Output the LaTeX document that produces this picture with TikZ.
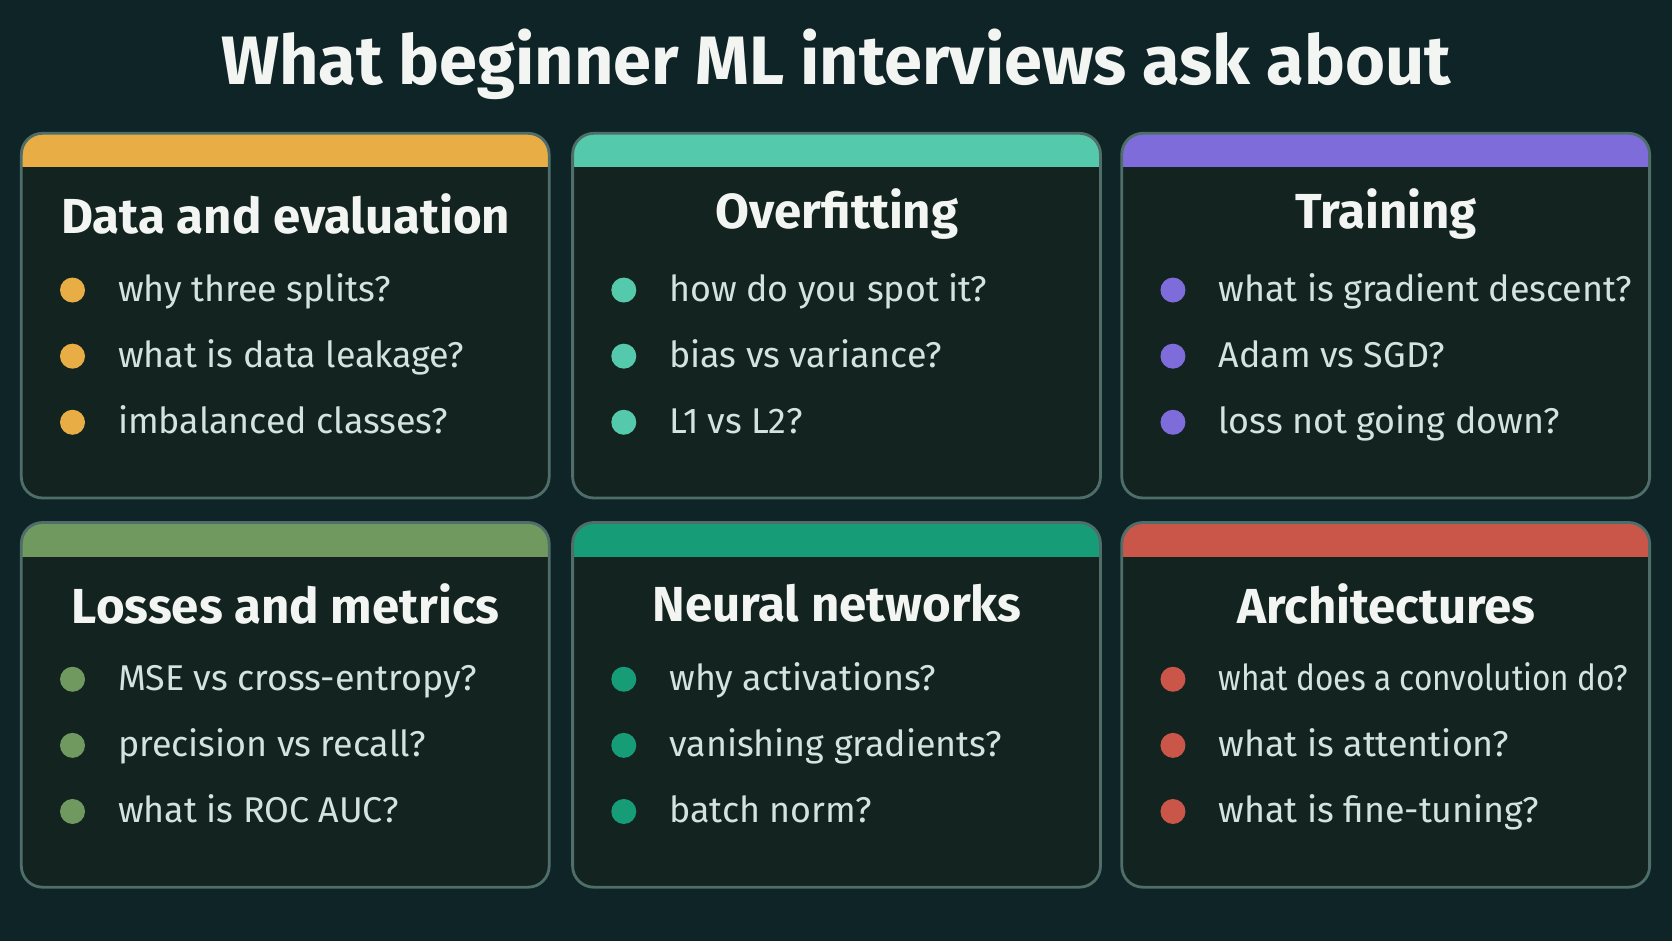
\documentclass[tikz,border=0pt]{standalone}
\usepackage{fontspec}
\setmainfont{Fira Sans}
\usetikzlibrary{positioning,calc}
\definecolor{bg}{HTML}{0F2427}
\definecolor{cardfill}{HTML}{122320}
\definecolor{cardline}{HTML}{4F6E69}
\definecolor{ink}{HTML}{F2F5F2}
\definecolor{itemink}{HTML}{D3E3DE}
\definecolor{cOrange}{HTML}{E8AE45}
\definecolor{cTeal}{HTML}{55C9AC}
\definecolor{cPurple}{HTML}{7E6CDB}
\definecolor{cOlive}{HTML}{6F995F}
\definecolor{cGreen}{HTML}{179C78}
\definecolor{cRed}{HTML}{C95649}
\tikzset{
  heading/.style={text=ink,font=\fontsize{14}{16}\selectfont\bfseries},
  item/.style={text=itemink,anchor=west,text height=1.6ex,text depth=0.4ex,
    font=\fontsize{10.2}{12}\selectfont},
  dot/.style={circle,inner sep=0pt,minimum size=0.25cm},
}
\newcommand{\card}[8]{%
  % #1 x, #2 y, #3 colour, #4 heading, #5-#7 items, #8 name
  \begin{scope}
    \clip[rounded corners=6] (#1,#2) rectangle ++(495,342);
    \fill[cardfill] (#1,#2) rectangle ++(495,342);
    \fill[#3] (#1,#2) rectangle ++(495,32);
  \end{scope}
  \draw[cardline,line width=0.8pt,rounded corners=6] (#1,#2) rectangle ++(495,342);
  \node[heading] (#8-head) at ($(#1,#2)+(248,76)$) {#4};
  \foreach \txt [count=\k] in {#5,#6,#7}{
    \node[dot,fill=#3] (#8-dot\k) at ($(#1,#2)+(48,85+62*\k)$) {};
    \node[item,right=0.2cm of #8-dot\k] (#8-item\k) {\txt};
  }%
}
\begin{document}
\begin{tikzpicture}[x=0.010663cm,y=-0.010663cm]
  \useasboundingbox (0,0) rectangle (1568,882);
  \fill[bg] (0,0) rectangle (1568,882);
  \node[text=ink,font=\fontsize{19.5}{23}\selectfont\bfseries] (title) at (784,60)
    {What beginner ML interviews ask about};
  \card{20}{125}{cOrange}{Data and evaluation}{why three splits?}{what is data leakage?}{imbalanced classes?}{data}
  \card{537}{125}{cTeal}{Overfitting}{how do you spot it?}{bias vs variance?}{L1 vs L2?}{over}
  \card{1052}{125}{cPurple}{Training}{what is gradient descent?}{Adam vs SGD?}{loss not going down?}{train}
  \card{20}{490}{cOlive}{Losses and metrics}{MSE vs cross-entropy?}{precision vs recall?}{what is ROC AUC?}{loss}
  \card{537}{490}{cGreen}{Neural networks}{why activations?}{vanishing gradients?}{batch norm?}{nets}
  \card{1052}{490}{cRed}{Architectures}{\scalebox{0.88}[1]{what does a convolution do?}}{what is attention?}{what is fine-tuning?}{arch}
\end{tikzpicture}
\end{document}
